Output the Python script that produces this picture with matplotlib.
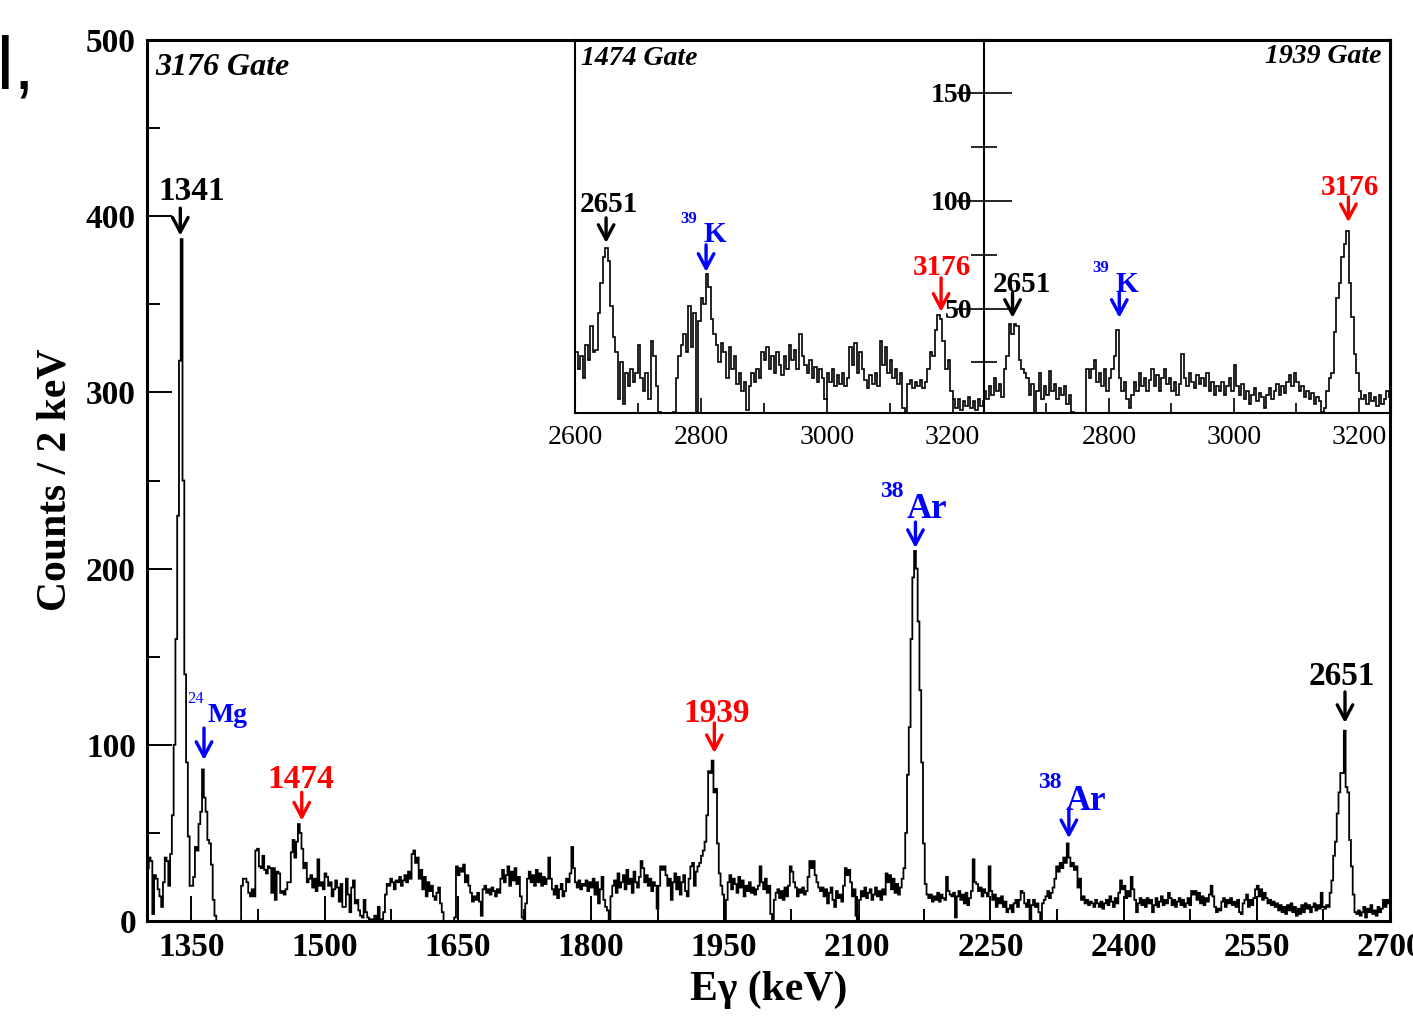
import numpy as np
import matplotlib.pyplot as plt
from matplotlib.ticker import MultipleLocator, FixedLocator

plt.rcParams['font.family'] = ['Liberation Serif', 'DejaVu Serif']

# main spectrum, 3176 keV gate: 2 keV per bin from 1300 keV
main_start = 1300
main_bin = 2
main_counts = [
    30, 36, 34, 4, 26, 24, 18, 14, 8, 22, 36, 34, 20, 38, 60, 100, 160, 230, 318, 387,
    250, 140, 90, 48, 20, 20, 25, 42, 40, 55, 62, 86, 70, 62, 46, 44, 32, 12, 3, 0,
    0, 0, 0, 0, 0, 0, 0, 0, 0, 0, 0, 0, 0, 20, 24, 24, 22, 16, 14, 18,
    14, 40, 41, 31, 30, 37, 29, 27, 31, 30, 16, 30, 12, 28, 27, 16, 17, 15, 18, 22,
    22, 39, 46, 36, 45, 55, 50, 41, 30, 33, 22, 24, 26, 19, 24, 17, 35, 20, 22, 18,
    27, 25, 20, 22, 14, 18, 23, 19, 11, 21, 8, 8, 24, 15, 5, 19, 23, 10, 12, 6,
    3, 2, 12, 5, 2, 0, 1, 0, 3, 0, 8, 1, 0, 5, 15, 21, 20, 24, 22, 18,
    23, 22, 25, 20, 23, 26, 22, 28, 24, 38, 40, 33, 36, 24, 29, 18, 25, 14, 22, 17,
    20, 14, 12, 16, 19, 10, 5, 0, 0, 0, 0, 0, 0, 2, 31, 26, 30, 28, 32, 22,
    26, 20, 16, 11, 14, 12, 16, 11, 3, 18, 20, 16, 18, 15, 19, 17, 14, 18, 16, 24,
    29, 22, 26, 31, 20, 28, 23, 30, 21, 25, 14, 2, 0, 10, 24, 28, 22, 26, 20, 29,
    22, 27, 20, 25, 21, 24, 36, 24, 18, 15, 20, 13, 18, 21, 14, 17, 24, 22, 27, 42,
    30, 22, 19, 23, 18, 21, 20, 23, 17, 22, 19, 24, 15, 22, 10, 18, 25, 12, 8, 6,
    0, 14, 20, 23, 16, 27, 19, 22, 26, 18, 29, 21, 24, 16, 28, 22, 19, 25, 34, 30,
    22, 26, 20, 24, 17, 22, 20, 7, 20, 31, 29, 31, 26, 20, 24, 12, 22, 27, 18, 25,
    15, 22, 26, 17, 14, 24, 31, 33, 20, 28, 31, 33, 37, 40, 45, 60, 85, 84, 91, 73,
    75, 44, 27, 20, 15, 0, 12, 22, 26, 18, 24, 21, 16, 25, 19, 23, 14, 20, 17, 22,
    16, 19, 15, 18, 20, 31, 22, 18, 24, 16, 20, 4, 0, 12, 16, 18, 13, 17, 12, 19,
    14, 20, 31, 28, 22, 19, 14, 18, 16, 19, 15, 17, 25, 34, 30, 34, 26, 22, 19, 17,
    19, 14, 18, 10, 16, 19, 12, 8, 17, 13, 15, 11, 20, 30, 26, 29, 22, 14, 18, 3,
    0, 12, 17, 14, 19, 13, 16, 18, 12, 15, 19, 14, 17, 12, 18, 15, 27, 22, 26, 18,
    24, 16, 21, 15, 19, 24, 30, 50, 83, 110, 160, 195, 210, 200, 170, 131, 90, 44, 21, 15,
    13, 15, 11, 14, 12, 16, 11, 15, 13, 12, 25, 17, 15, 14, 16, 2, 14, 17, 12, 15,
    10, 16, 9, 13, 17, 35, 22, 21, 17, 19, 14, 18, 16, 14, 31, 17, 12, 15, 8, 13,
    10, 14, 8, 11, 5, 7, 9, 5, 10, 12, 8, 12, 17, 16, 10, 8, 12, 0, 9, 12,
    8, 10, 5, 0, 10, 12, 14, 17, 13, 16, 19, 24, 31, 28, 33, 30, 36, 33, 44, 36,
    31, 33, 29, 31, 19, 24, 12, 14, 10, 12, 9, 11, 10, 8, 12, 10, 8, 11, 7, 10,
    12, 9, 14, 11, 8, 13, 10, 16, 23, 18, 20, 13, 17, 14, 25, 18, 12, 5, 10, 13,
    9, 12, 8, 13, 10, 12, 5, 9, 13, 8, 11, 14, 9, 12, 10, 16, 13, 9, 12, 8,
    11, 13, 9, 12, 8, 10, 13, 9, 17, 15, 17, 12, 16, 10, 14, 9, 13, 11, 15, 20,
    14, 8, 5, 7, 6, 11, 13, 8, 12, 10, 13, 9, 11, 8, 12, 5, 4, 10, 12, 15,
    8, 12, 9, 13, 18, 20, 14, 18, 12, 16, 13, 10, 12, 9, 11, 8, 10, 6, 9, 5,
    8, 4, 9, 6, 10, 5, 8, 3, 7, 4, 9, 5, 10, 7, 9, 5, 8, 10, 6, 9,
    7, 16, 8, 7, 9, 8, 16, 23, 37, 45, 61, 73, 84, 84, 108, 76, 73, 46, 31, 15,
    5, 4, 6, 3, 5, 8, 2, 7, 5, 9, 4, 6, 3, 8, 5, 7, 12, 8, 12, 10,
]

# insets: 4 keV per bin from 2600 keV
inset_start = 2600
inset_bin = 4
gate1474_counts = [
    30, 22, 28, 18, 33, 26, 42, 30, 31, 48, 62, 74, 78, 72, 51, 37, 30, 8, 25, 6,
    20, 14, 22, 16, 20, 33, 18, 12, 20, 8, 35, 28, 14, 2, 0, 0, 0, 0, 0, 2,
    18, 28, 33, 38, 30, 51, 32, 48, 2, 44, 55, 52, 66, 60, 45, 38, 33, 25, 34, 30,
    18, 32, 22, 28, 15, 20, 12, 16, 3, 14, 20, 16, 22, 18, 30, 26, 32, 22, 28, 20,
    30, 24, 19, 28, 22, 33, 26, 31, 22, 38, 28, 24, 20, 26, 18, 23, 16, 22, 18, 8,
    20, 16, 22, 14, 19, 15, 20, 14, 18, 32, 24, 34, 20, 30, 22, 17, 13, 19, 15, 20,
    14, 35, 24, 32, 20, 26, 18, 22, 15, 20, 4, 2, 15, 17, 13, 16, 14, 17, 13, 16,
    22, 30, 28, 40, 47, 45, 35, 22, 26, 12, 8, 4, 8, 3, 7, 5, 9, 4, 7, 3,
    8, 5, 7,
]
gate1939_counts = [
    12, 8, 14, 10, 18, 12, 15, 9, 22, 28, 43, 38, 43, 42, 26, 22, 20, 18, 10, 15,
    0, 12, 20, 8, 14, 10, 21, 12, 15, 8, 13, 10, 14, 6, 10, 2, 0, 0, 0, 0,
    0, 22, 18, 22, 26, 16, 20, 14, 22, 12, 18, 22, 28, 40, 18, 12, 16, 8, 4, 10,
    16, 12, 20, 14, 18, 12, 17, 22, 14, 19, 12, 18, 22, 15, 18, 12, 16, 10, 15, 29,
    18, 14, 20, 16, 13, 19, 15, 18, 14, 20, 12, 16, 10, 14, 12, 16, 10, 14, 18, 12,
    24, 14, 10, 15, 8, 12, 6, 10, 13, 7, 11, 9, 4, 10, 13, 8, 12, 15, 10, 14,
    11, 16, 19, 14, 20, 16, 12, 14, 9, 12, 8, 11, 6, 9, 7, 2, 4, 12, 18, 20,
    39, 55, 62, 74, 80, 86, 62, 46, 29, 20, 12, 8, 10, 6, 11, 7, 9, 5, 10, 6,
    8, 12, 9,
]

main_xticks = [1350, 1500, 1650, 1800, 1950, 2100, 2250, 2400, 2550, 2700]
inset_yticks = [50, 100, 150]

RED, BLUE, BLACK = '#ff0000', '#0000ff', 'black'

W, H = 1413, 1016


def px_box(l, t, r, b):
    return [l / W, 1 - b / H, (r - l) / W, (b - t) / H]


def arrow(ax, x, y_tail, y_tip, color):
    ax.annotate('', xy=(x, y_tip), xytext=(x, y_tail),
                arrowprops=dict(arrowstyle='->, head_length=0.75, head_width=0.4',
                                color=color, lw=2.4, shrinkA=0, shrinkB=0,
                                mutation_scale=14))


def label(ax, x, y, s, color, size, ha='center', weight='bold'):
    ax.text(x, y, s, color=color, fontsize=size, fontweight=weight,
            ha=ha, va='baseline')


fig = plt.figure(figsize=(14.13, 10.16), dpi=100)

# ---------------- main panel
ax = fig.add_axes(px_box(147, 40, 1390, 921))
edges = main_start + main_bin * np.arange(len(main_counts) + 1)
ax.stairs(main_counts, edges, color=BLACK, lw=1.3, baseline=None)
ax.set_xlim(1300, 2700)
ax.set_ylim(0, 500)
ax.set_xticks(main_xticks)
ax.xaxis.set_minor_locator(MultipleLocator(75))
ax.yaxis.set_major_locator(MultipleLocator(100))
ax.yaxis.set_minor_locator(MultipleLocator(50))
ax.tick_params(which='major', direction='in', length=18, width=1.4, labelsize=24, pad=8)
ax.tick_params(which='minor', direction='in', length=9, width=1.4)
for lab in ax.get_xticklabels() + ax.get_yticklabels():
    lab.set_fontweight('bold')
for sp in ax.spines.values():
    sp.set_linewidth(2.2)
ax.set_xlabel('E\u03b3 (keV)', fontsize=30, fontweight='bold', labelpad=5)
fig.text(55 / W, 1 - 480 / H, 'Counts / 2 keV', rotation=90, fontsize=30,
         fontweight='bold', ha='center', va='center')

ax.text(0.0065, 0.960, '3176 Gate', transform=ax.transAxes, fontsize=23,
        fontweight='bold', fontstyle='italic', va='baseline')

arrow(ax, 1337.5, 404.6, 389, BLACK)
label(ax, 1350.7, 409, '1341', BLACK, 24)
arrow(ax, 1364.2, 109.5, 91.4, BLUE)
label(ax, 1367.6, 113, 'Mg', BLUE, 20, ha='left')
label(ax, 1345, 123.7, '24', BLUE, 12, ha='left', weight='normal')
arrow(ax, 1474.3, 73, 57, RED)
label(ax, 1473.5, 75.5, '1474', RED, 24)
arrow(ax, 1939, 112.4, 95.3, RED)
label(ax, 1942, 113, '1939', RED, 24)
arrow(ax, 2165.5, 226.4, 211.7, BLUE)
label(ax, 2155.3, 228.7, 'Ar', BLUE, 25, ha='left')
label(ax, 2126, 240.6, '38', BLUE, 17, ha='left')
arrow(ax, 2338.3, 64, 47, BLUE)
label(ax, 2334.5, 63, 'Ar', BLUE, 25, ha='left')
label(ax, 2304, 75.5, '38', BLUE, 17, ha='left')
arrow(ax, 2649.3, 130, 112.4, BLACK)
label(ax, 2645.6, 134, '2651', BLACK, 24)

# ---------------- insets
ins1 = fig.add_axes(px_box(575, 40, 984, 413))
ins2 = fig.add_axes(px_box(984, 40, 1390, 413))
inset_edges = inset_start + inset_bin * np.arange(len(gate1474_counts) + 1)
ins1.stairs(gate1474_counts, inset_edges, color=BLACK, lw=1.2, baseline=None)
inset_edges = inset_start + inset_bin * np.arange(len(gate1939_counts) + 1)
ins2.stairs(gate1939_counts, inset_edges, color=BLACK, lw=1.2, baseline=None)

for a in (ins1, ins2):
    a.set_xlim(2600, 3250)
    a.set_ylim(1.6, 174.4)
    a.xaxis.set_minor_locator(FixedLocator([2700, 2900, 3100]))
    a.tick_params(axis='x', which='major', direction='in', length=11, width=1.2,
                  labelsize=20, pad=9)
    a.tick_params(axis='x', which='minor', direction='in', length=7, width=1.2)
    a.spines['left'].set_linewidth(1.5)
    a.spines['bottom'].set_linewidth(1.5)
    a.spines['top'].set_linewidth(2.2)
    a.spines['right'].set_visible(False)
ins2.spines['right'].set_visible(True)
ins2.spines['right'].set_linewidth(2.2)

ins1.set_xticks([2600, 2800, 3000, 3200])
ins1.set_yticks([])
ins2.set_xticks([2800, 3000, 3200])
ins2.set_yticks(inset_yticks)
ins2.yaxis.set_minor_locator(FixedLocator([25, 75, 125]))
ins2.tick_params(axis='y', which='major', direction='inout', length=39.6, width=1.2,
                 labelsize=20, pad=-11.2)
ins2.tick_params(axis='y', which='minor', direction='inout', length=18.7, width=1.2)
for lab in ins2.get_yticklabels():
    lab.set_fontweight('bold')

ins1.text(0.0147, 0.933, '1474 Gate', transform=ins1.transAxes, fontsize=20,
          fontweight='bold', fontstyle='italic', va='baseline')
ins2.text(0.980, 0.938, '1939 Gate', transform=ins2.transAxes, fontsize=20,
          fontweight='bold', fontstyle='italic', va='baseline', ha='right')

arrow(ins1, 2649.4, 92, 80.4, BLACK)
label(ins1, 2654, 94.7, '2651', BLACK, 21)
arrow(ins1, 2808.3, 79.5, 67, BLUE)
label(ins1, 2804, 80.9, 'K', BLUE, 21, ha='left')
label(ins1, 2767, 89.7, '39', BLUE, 12, ha='left')
arrow(ins1, 3181.8, 64.2, 48.5, RED)
label(ins1, 3183.4, 65.6, '3176', RED, 21)

arrow(ins2, 2645.7, 57.3, 45.7, BLACK)
label(ins2, 2661, 57.7, '2651', BLACK, 21)
arrow(ins2, 2816.6, 57.3, 45.7, BLUE)
label(ins2, 2811.3, 57.7, 'K', BLUE, 21, ha='left')
label(ins2, 2774.2, 67, '39', BLUE, 12, ha='left')
arrow(ins2, 3183.4, 101.7, 90, RED)
label(ins2, 3186.3, 102.6, '3176', RED, 21)

fig.text(-3 / W, 1 - 88 / H, 'l,', fontsize=54, family='Liberation Sans',
         ha='left', va='baseline')

fig.savefig('out.png', dpi=100)
